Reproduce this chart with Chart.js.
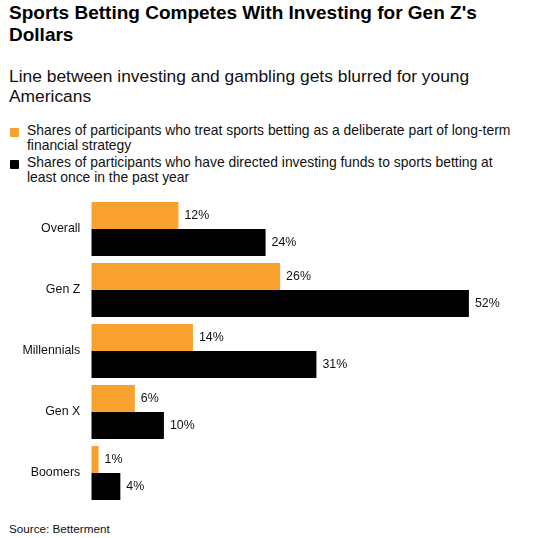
<!DOCTYPE html>
<html lang="en">
<head>
    <meta charset="UTF-8">
    <title>Sports Betting Competes With Investing for Gen Z's Dollars</title>
    <script src="https://cdn.jsdelivr.net/npm/chart.js"></script>
    <style>
        body { margin: 0; background: #fff; font-family: 'Liberation Sans', Arial, sans-serif; color: #000; }
        #wrap { position: relative; width: 554px; height: 538px; overflow: hidden; }
        h1 { position: absolute; left: 9px; top: 2.4px; margin: 0; font-size: 19px; line-height: 22px; font-weight: 700; width: 520px; }
        .sub { position: absolute; left: 9px; top: 66px; margin: 0; font-size: 17.4px; line-height: 20px; color: #111; width: 520px; }
        .legend { position: absolute; left: 9px; top: 123px; font-size: 13.9px; line-height: 14.5px; color: #111; }
        .legend div { position: relative; padding-left: 18px; margin-bottom: 3px; width: 492px; }
        .legend span { position: absolute; left: 1px; top: 4.5px; width: 9px; height: 9px; border-radius: 1px; }
        .source { position: absolute; left: 9px; top: 522px; font-size: 11.7px; line-height: 14px; color: #111; }
        #bars { position: absolute; left: 0; top: 198px; }
    </style>
</head>
<body>
<div id="wrap">
    <h1>Sports Betting Competes With Investing for Gen Z's Dollars</h1>
    <p class="sub">Line between investing and gambling gets blurred for young Americans</p>
    <div class="legend">
        <div><span style="background:#F9A12F"></span>Shares of participants who treat sports betting as a deliberate part of long-term financial strategy</div>
        <div><span style="background:#000"></span>Shares of participants who have directed investing funds to sports betting at least once in the past year</div>
    </div>
    <canvas id="bars" width="554" height="306"></canvas>
    <div class="source">Source: Betterment</div>
</div>

<script>
const groups = ["Overall", "Gen Z", "Millennials", "Gen X", "Boomers"];
const strategyShare = [12, 26, 14, 6, 1];
const fundedShare = [24, 52, 31, 10, 4];
const seriesNames = [
    "Shares of participants who treat sports betting as a deliberate part of long-term financial strategy",
    "Shares of participants who have directed investing funds to sports betting at least once in the past year"
];

const labelFont = "'Liberation Sans', Arial, sans-serif";

// value labels at the end of each bar
const valueLabels = {
    id: 'valueLabels',
    afterDatasetsDraw(chart) {
        const ctx = chart.ctx;
        ctx.save();
        ctx.font = '12.4px ' + labelFont;
        ctx.fillStyle = '#111';
        ctx.textBaseline = 'middle';
        chart.data.datasets.forEach((ds, i) => {
            chart.getDatasetMeta(i).data.forEach((bar, j) => {
                ctx.fillText(ds.data[j] + '%', bar.x + 6, bar.y);
            });
        });
        ctx.restore();
    }
};

new Chart(document.getElementById('bars'), {
    type: 'bar',
    data: {
        labels: groups,
        datasets: [
            { label: seriesNames[0], data: strategyShare, backgroundColor: '#F9A12F' },
            { label: seriesNames[1], data: fundedShare, backgroundColor: '#000000' }
        ]
    },
    options: {
        indexAxis: 'y',
        responsive: false,
        animation: false,
        layout: { padding: { top: 0.5, right: 27, bottom: 0.5, left: 0 } },
        datasets: { bar: { barPercentage: 1.0, categoryPercentage: 0.885 } },
        scales: {
            x: { display: false, min: 0, max: 60 },
            y: {
                border: { display: false },
                grid: { display: false, drawTicks: false },
                ticks: {
                    color: '#111',
                    padding: 11,
                    font: { family: labelFont, size: 12.4 }
                },
                afterFit(scale) {
                    scale.width = 91.3;
                    // no extra room above/below for the tick labels
                    scale.paddingTop = 0;
                    scale.paddingBottom = 0;
                }
            }
        },
        plugins: {
            legend: { display: false },
            tooltip: { enabled: false }
        }
    },
    plugins: [valueLabels]
});
</script>
</body>
</html>
